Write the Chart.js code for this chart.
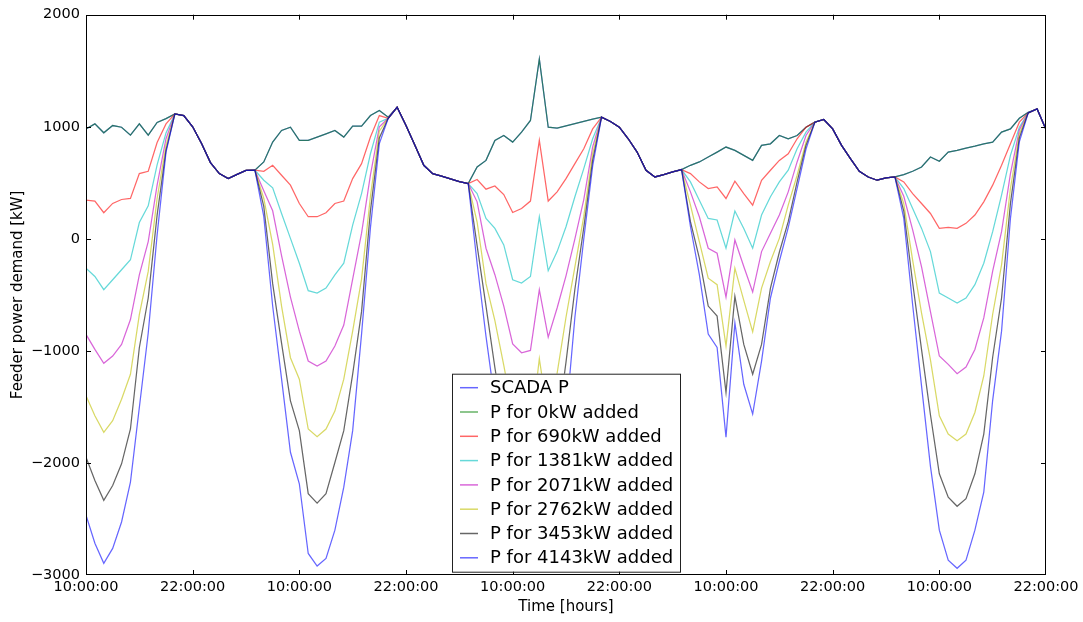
<!DOCTYPE html>
<html>
<head>
<meta charset="utf-8">
<script src="https://cdn.jsdelivr.net/npm/chart.js@4.4.0/dist/chart.umd.min.js"></script>
<style>
  html, body { margin: 0; padding: 0; background: #fff; }
</style>
</head>
<body>
<canvas id="chart" width="1083" height="622"></canvas>
<script>
// ===============================
// Data (hourly, 10:00 day 1 -> 22:00 day 5)
// ===============================
const timeTicks = ["10:00:00", "22:00:00", "10:00:00", "22:00:00", "10:00:00",
                   "22:00:00", "10:00:00", "22:00:00", "10:00:00", "22:00:00"];
const hours = Array.from({ length: 109 }, (_, i) => i);

// measured feeder demand (same as "P for 0kW added")
const scadaP = [
  981, 1026, 946, 1011, 996, 925, 1026, 925, 1038, 1073, 1115,
  1100, 1000, 850, 680, 582, 537, 575, 610, 612,
  686, 863, 967, 996, 878, 878, 908, 937, 967, 908, 1005, 1005, 1100, 1145, 1085,
  1174, 1011, 834, 656, 582, 560, 535, 510, 493,
  641, 700, 878, 922, 863, 952, 1056, 1603, 996, 988, 1008, 1028, 1048, 1068, 1085,
  1047, 996, 893, 774, 612, 552, 573, 597, 618,
  656, 686, 730, 774, 819, 789, 745, 700, 834, 848, 922, 893, 922, 996, 1041,
  1065, 981, 834, 715, 603, 552, 523, 543, 552,
  573, 603, 641, 730, 692, 774, 789, 810, 828, 848, 863, 952, 981, 1076, 1130,
  1159, 975
];
const p0kW = scadaP;

const p690kW = [
  345, 337, 233, 316, 351, 360, 582, 603, 860, 1025, 1115,
  1100, 1000, 850, 680, 582, 537, 575, 610, 612,
  603, 656, 567, 479, 315, 197, 197, 233, 315, 337, 537, 671, 908, 1100, 1076,
  1174, 1011, 834, 656, 582, 560, 535, 510, 493,
  529, 443, 472, 395, 235, 271, 337, 878, 337, 419, 537, 671, 804, 981, 1085,
  1047, 996, 893, 774, 612, 552, 573, 597, 618,
  582, 508, 448, 464, 360, 514, 404, 301, 523, 612, 700, 759, 893, 996, 1041,
  1065, 981, 834, 715, 603, 552, 523, 543, 552,
  508, 404, 315, 226, 93, 102, 93, 138, 212, 330, 479, 656, 848, 1041, 1124,
  1159, 975
];

const p1381kW = [
  -262, -336, -454, -365, -276, -187, 145, 295, 660, 945, 1115,
  1100, 1000, 850, 680, 582, 537, 575, 610, 612,
  523, 455, 226, 4, -218, -463, -484, -440, -321, -218, 123, 404, 759, 1041, 1076,
  1174, 1011, 834, 656, 582, 560, 535, 510, 493,
  404, 182, 93, -54, -365, -395, -336, 197, -285, -114, 108, 375, 626, 893, 1085,
  1047, 996, 893, 774, 612, 552, 573, 597, 618,
  508, 345, 182, 168, -84, 248, 93, -84, 212, 375, 508, 612, 804, 952, 1041,
  1065, 981, 834, 715, 603, 552, 523, 543, 552,
  448, 271, 93, -114, -484, -528, -573, -528, -409, -218, 64, 390, 745, 996, 1124,
  1159, 975
];

const p2071kW = [
  -853, -987, -1111, -1046, -942, -720, -321, -25, 479, 893, 1115,
  1100, 1000, 850, 680, 582, 537, 575, 610, 612,
  430, 250, -150, -520, -824, -1090, -1135, -1090, -957, -770, -360, 50, 570, 1000, 1076,
  1174, 1011, 834, 656, 582, 560, 535, 510, 493,
  330, -84, -320, -600, -937, -1017, -996, -454, -877, -617, -330, 0, 350, 820, 1085,
  1047, 996, 893, 774, 612, 552, 573, 597, 618,
  419, 197, -84, -129, -520, -10, -247, -475, -114, 49, 212, 419, 686, 922, 1041,
  1065, 981, 834, 715, 603, 552, 523, 543, 552,
  380, 80, -250, -650, -1046, -1120, -1203, -1144, -987, -706, -289, 64, 582, 971, 1124,
  1159, 975
];

const p2762kW = [
  -1401, -1579, -1727, -1623, -1431, -1209, -676, -291, 360, 834, 1115,
  1100, 1000, 850, 680, 582, 537, 575, 610, 612,
  360, -50, -600, -1061, -1253, -1697, -1766, -1697, -1537, -1253, -824, -360, 380, 960, 1076,
  1174, 1011, 834, 656, 582, 560, 535, 510, 493,
  150, -400, -730, -1130, -1550, -1700, -1750, -1070, -1600, -1200, -700, -250, 200, 760, 1085,
  1047, 996, 893, 774, 612, 552, 573, 597, 618,
  301, -25, -351, -409, -957, -262, -550, -830, -440, -203, 4, 301, 567, 863, 1041,
  1065, 981, 834, 715, 603, 552, 523, 543, 552,
  313, -193, -663, -1080, -1579, -1742, -1801, -1742, -1550, -1224, -673, -232, 449, 936, 1124,
  1159, 975
];

const p3453kW = [
  -1949, -2156, -2334, -2201, -2008, -1697, -972, -528, 212, 789, 1115,
  1100, 1000, 850, 680, 582, 537, 575, 610, 612,
  290, -400, -930, -1446, -1712, -2274, -2358, -2274, -1996, -1712, -1208, -650, 250, 900, 1076,
  1174, 1011, 834, 656, 582, 560, 535, 510, 493,
  -60, -600, -1150, -1650, -2100, -2250, -2300, -1700, -2200, -1700, -1100, -450, 100, 700, 1085,
  1047, 996, 893, 774, 612, 552, 573, 597, 618,
  153, -173, -600, -690, -1372, -513, -942, -1209, -942, -440, -120, 153, 508, 834, 1041,
  1065, 981, 834, 715, 603, 552, 523, 543, 552,
  248, -392, -989, -1570, -2097, -2305, -2387, -2319, -2097, -1742, -1057, -528, 316, 901, 1124,
  1159, 975
];

const p4143kW = [
  -2467, -2717, -2896, -2763, -2527, -2171, -1505, -840, 35, 774, 1115,
  1100, 1000, 850, 680, 582, 537, 575, 610, 612,
  200, -600, -1250, -1905, -2186, -2808, -2920, -2852, -2600, -2216, -1712, -850, 100, 850, 1076,
  1174, 1011, 834, 656, 582, 560, 535, 510, 493,
  -220, -870, -1450, -2150, -2650, -2800, -2880, -2250, -2800, -2300, -1600, -700, 0, 650, 1085,
  1047, 996, 893, 774, 612, 552, 573, 597, 618,
  110, -320, -850, -970, -1771, -750, -1298, -1564, -1091, -528, -200, 100, 450, 800, 1041,
  1065, 981, 834, 715, 603, 552, 523, 543, 552,
  183, -591, -1315, -2030, -2600, -2867, -2940, -2867, -2600, -2260, -1441, -824, 183, 866, 1124,
  1159, 975
];

const seriesNames = ["SCADA P", "P for 0kW added", "P for 690kW added", "P for 1381kW added",
                     "P for 2071kW added", "P for 2762kW added", "P for 3453kW added", "P for 4143kW added"];
const seriesData = [scadaP, p0kW, p690kW, p1381kW, p2071kW, p2762kW, p3453kW, p4143kW];
// matplotlib classic cycle, alpha 0.6
const seriesColors = ["rgba(0,0,255,0.6)", "rgba(0,128,0,0.6)", "rgba(255,0,0,0.6)", "rgba(0,191,191,0.6)",
                      "rgba(191,0,191,0.6)", "rgba(191,191,0,0.6)", "rgba(0,0,0,0.6)", "rgba(0,0,255,0.6)"];

const FONT = "'DejaVu Sans', sans-serif";

// ===============================
// Frame, inward ticks, legend
// ===============================
const frameAndLegend = {
  id: "frameAndLegend",
  afterDatasetsDraw(chart) {
    const { ctx, chartArea: a, scales: { x, y } } = chart;
    ctx.save();
    ctx.strokeStyle = "#000";
    ctx.lineWidth = 1;

    // inward ticks on all four sides (edge ticks sit on the frame)
    ctx.beginPath();
    for (let h = 12; h < 108; h += 12) {
      const px = Math.round(x.getPixelForValue(h)) + 0.5;
      ctx.moveTo(px, a.bottom); ctx.lineTo(px, a.bottom - 5);
      ctx.moveTo(px, a.top); ctx.lineTo(px, a.top + 5);
    }
    for (let v = -2000; v < 2000; v += 1000) {
      const py = Math.round(y.getPixelForValue(v)) + 0.5;
      ctx.moveTo(a.left, py); ctx.lineTo(a.left + 5, py);
      ctx.moveTo(a.right, py); ctx.lineTo(a.right - 5, py);
    }
    ctx.stroke();
    ctx.strokeRect(Math.round(a.left) + 0.5, Math.round(a.top) + 0.5,
                   Math.round(a.width) - 1, Math.round(a.height) - 1);

    // legend box
    const lx = a.left + 366, ly = a.top + 359, lw = 228, lh = 198;
    ctx.fillStyle = "#fff";
    ctx.fillRect(lx, ly, lw, lh);
    ctx.strokeStyle = "#222";
    ctx.strokeRect(lx + 0.5, ly + 0.5, lw, lh);
    ctx.font = "18px " + FONT;
    ctx.textBaseline = "middle";
    seriesNames.forEach((name, i) => {
      const ry = ly + 14 + i * 24.3;
      ctx.strokeStyle = seriesColors[i];
      ctx.lineWidth = 1.5;
      ctx.beginPath();
      ctx.moveTo(lx + 8, ry); ctx.lineTo(lx + 26, ry);
      ctx.stroke();
      ctx.fillStyle = "#000";
      ctx.fillText(name, lx + 38, ry + 1);
    });
    ctx.restore();
  }
};

// ===============================
// Chart
// ===============================
const ctx = document.getElementById("chart").getContext("2d");

new Chart(ctx, {
  type: "line",
  data: {
    labels: hours,
    datasets: seriesData.map((d, i) => ({
      label: seriesNames[i],
      data: d,
      borderColor: seriesColors[i],
      borderWidth: 1.25,
      pointRadius: 0,
      tension: 0,
      fill: false,
      order: seriesData.length - i
    }))
  },
  options: {
    responsive: false,
    animation: false,
    layout: { padding: { left: 0, right: 37, top: 12, bottom: 0 } },
    plugins: { legend: { display: false }, tooltip: { enabled: false } },
    scales: {
      x: {
        type: "linear",
        min: 0,
        max: 108,
        grid: { display: false, drawTicks: false },
        border: { display: false },
        ticks: {
          stepSize: 12,
          autoSkip: false,
          maxRotation: 0,
          padding: 4,
          color: "#000",
          font: { family: FONT, size: 14.5 },
          callback: (v) => timeTicks[v / 12]
        },
        title: {
          display: true,
          text: "Time [hours]",
          color: "#000",
          font: { family: FONT, size: 15 },
          padding: { top: 0, bottom: 6 }
        },
        afterFit: (s) => { s.height = 47; }
      },
      y: {
        min: -3000,
        max: 2000,
        grid: { display: false, drawTicks: false },
        border: { display: false },
        ticks: {
          stepSize: 1000,
          padding: 6,
          color: "#000",
          font: { family: FONT, size: 14.5 },
          callback: (v) => (v < 0 ? "\u2212" + Math.abs(v) : String(v))
        },
        title: {
          display: true,
          text: "Feeder power demand [kW]",
          color: "#000",
          font: { family: FONT, size: 15 },
          padding: { top: 9, bottom: 0 }
        },
        afterFit: (s) => { s.width = 86; }
      }
    }
  },
  plugins: [frameAndLegend]
});
</script>
</body>
</html>
